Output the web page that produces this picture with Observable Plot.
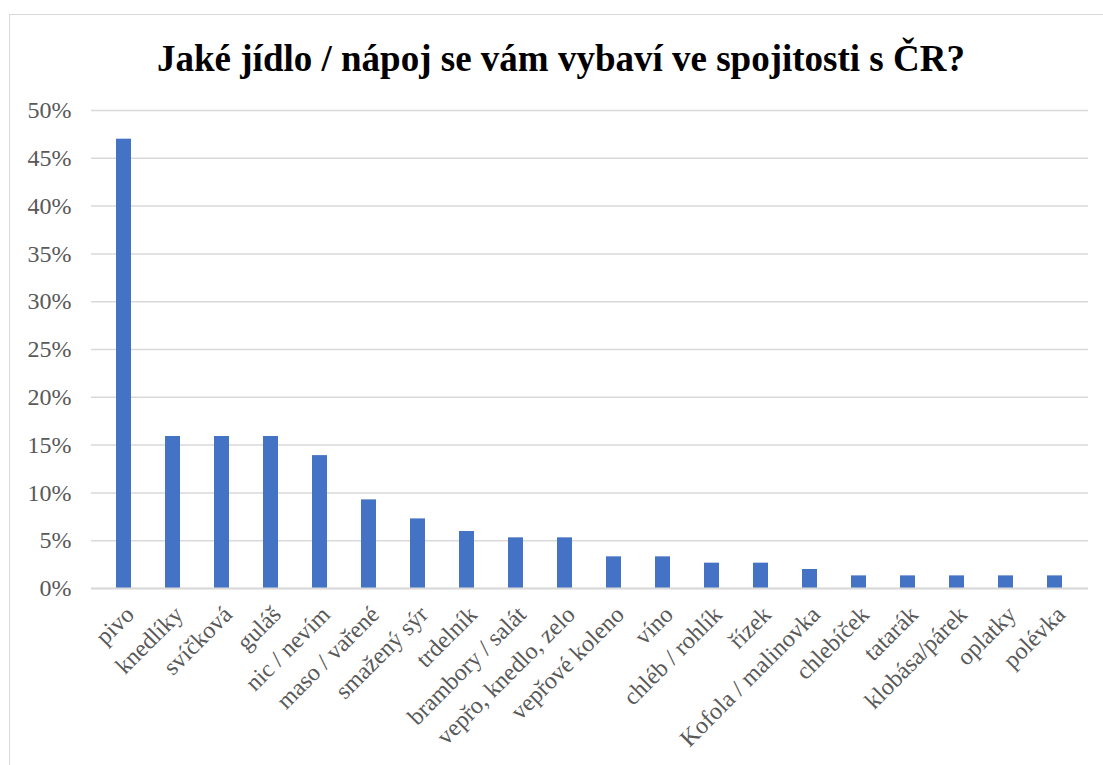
<!DOCTYPE html>
<html>
<head>
<meta charset="utf-8">
<script src="https://cdn.jsdelivr.net/npm/d3@7"></script>
<script src="https://cdn.jsdelivr.net/npm/@observablehq/plot@0.6"></script>
<style>
  html, body { margin: 0; padding: 0; background: #fff; overflow: hidden; }
  #wrap { position: relative; width: 1103px; height: 765px; }
  #frame { position: absolute; left: 9px; top: 14px; width: 1200px; height: 900px; border: 1.5px solid #d9d9d9; box-sizing: border-box; }
  #title { position: absolute; left: 0; top: 37px; width: 1122px; text-align: center; font-family: "Liberation Serif", "Times New Roman", serif; font-weight: bold; font-size: 37px; color: #000; }
  #chart { position: absolute; left: 0; top: 0; }
</style>
</head>
<body>
<div id="wrap">
  <div id="frame"></div>
  <div id="title">Jaké jídlo / nápoj se vám vybaví ve spojitosti s ČR?</div>
  <div id="chart"></div>
</div>
<script>
const titleText = "Jaké jídlo / nápoj se vám vybaví ve spojitosti s ČR?";
const categories = ["pivo", "knedlíky", "svíčková", "guláš", "nic / nevím", "maso / vařené", "smažený sýr", "trdelník", "brambory / salát", "vepřo, knedlo, zelo", "vepřové koleno", "víno", "chléb / rohlík", "řízek", "Kofola / malinovka", "chlebíček", "tatarák", "klobása/párek", "oplatky", "polévka"];
const values = [0.470, 0.159, 0.159, 0.159, 0.139, 0.0927, 0.0728, 0.0596, 0.053, 0.053, 0.0331, 0.0331, 0.0265, 0.0265, 0.0199, 0.0132, 0.0132, 0.0132, 0.0132, 0.0132];
const yTicks = [0, 0.05, 0.10, 0.15, 0.20, 0.25, 0.30, 0.35, 0.40, 0.45, 0.50];

const data = categories.map((c, i) => ({ category: c, value: values[i] }));

const chart = Plot.plot({
  width: 1103,
  height: 765,
  marginLeft: 91,
  marginRight: 15,
  marginTop: 110,
  marginBottom: 177,
  style: { fontFamily: "'Liberation Serif', 'Times New Roman', serif", background: "transparent", color: "#595959" },
  x: { domain: categories, paddingInner: 0.69, paddingOuter: 0.345, label: null },
  y: { domain: [0, 0.5], label: null },
  marks: [
    Plot.gridY(yTicks, { stroke: "#d9d9d9", strokeOpacity: 1, strokeWidth: 1.5 }),
    Plot.axisY(yTicks, { tickSize: 0, tickPadding: 20, tickFormat: d3.format(".0%"), fontSize: 24, fill: "#595959", label: null }),
    Plot.barY(data, { x: "category", y: "value", fill: "#4472c4" }),
    Plot.ruleY([0], { stroke: "#d9d9d9", strokeWidth: 2 }),
    Plot.axisX({ tickSize: 0, tickPadding: 22, dx: 6, tickRotate: -45, fontSize: 24, fill: "#595959", label: null })
  ]
});
document.getElementById("chart").appendChild(chart);
</script>
</body>
</html>
